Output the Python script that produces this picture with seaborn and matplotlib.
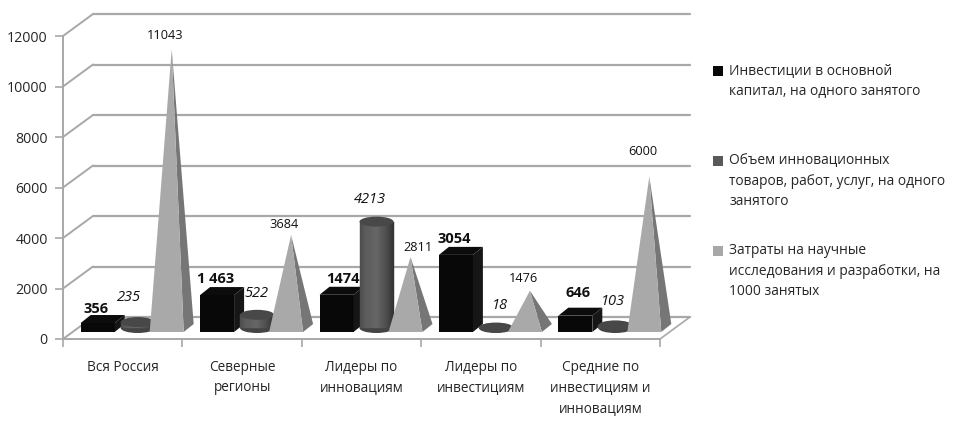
import numpy as np
import matplotlib
matplotlib.use("Agg")
import matplotlib.pyplot as plt
from matplotlib.patches import Polygon, Ellipse, Rectangle
import seaborn as sns

categories = ["Вся Россия", "Северные\nрегионы", "Лидеры по\nинновациям",
              "Лидеры по\nинвестициям", "Средние по\nинвестициям и\nинновациям"]
invest = [356, 1463, 1474, 3054, 646]
innov = [235, 522, 4213, 18, 103]
research = [11043, 3684, 2811, 1476, 6000]
invest_labels = ["356", "1 463", "1474", "3054", "646"]
legend_labels = ["Инвестиции в основной\nкапитал, на одного занятого",
                 "Объем инновационных\nтоваров, работ, услуг, на одного\nзанятого",
                 "Затраты на научные\nисследования и разработки, на\n1000 занятых"]
y_ticks = [0, 2000, 4000, 6000, 8000, 10000, 12000]

W, H = 960, 426
L, R, T, B = 63, 660, 36, 339          # front plane of the chart, pixels
PX = 5 / (R - L)                       # category units per pixel
PY = 12000 / (B - T)                   # value units per pixel
BACK_X, BACK_Y = 30, 22                # depth of the chart box, pixels
HALF = 17                              # half width of a mark, pixels
DX, DY = 10, 8                         # depth of a mark, pixels
GRID = "#a8a8a8"
TXT = "#262626"

sns.set_theme(style="white")
plt.rcParams["font.family"] = ["Open Sans", "DejaVu Sans"]

fig = plt.figure(figsize=(W / 100, H / 100), dpi=100)
ax = fig.add_axes([L / W, 1 - B / H, (R - L) / W, (B - T) / H])
idx = np.arange(len(categories))

# chart box
for v in y_ticks:
    ax.plot([-0.5 + BACK_X * PX, 4.5 + BACK_X * PX], [v + BACK_Y * PY] * 2,
            color=GRID, lw=1.6, clip_on=False, zorder=1)
    ax.plot([-0.5, -0.5 + BACK_X * PX], [v, v + BACK_Y * PY],
            color=GRID, lw=1.4, clip_on=False, zorder=1)
ax.plot([4.5, 4.5 + BACK_X * PX], [0, BACK_Y * PY], color=GRID, lw=1.2, clip_on=False, zorder=1)

base = 7 * PY                          # mark base above the front edge
bar_x = idx - 25 * PX
cyl_x = idx + 15 * PX
pyr_x = idx + 44 * PX

# investments: front faces through seaborn
sns.barplot(x=bar_x, y=invest, native_scale=True, width=34 * PX, color="#080808",
            saturation=1, bottom=base, ax=ax, zorder=3, clip_on=False, errorbar=None,
            linewidth=0, edgecolor="none")
for x, v in zip(bar_x, invest):
    x0, x1 = x - HALF * PX, x + HALF * PX
    top = base + v
    ax.add_patch(Polygon([(x1, base), (x1 + DX * PX, base + DY * PY),
                          (x1 + DX * PX, top + DY * PY), (x1, top)],
                         fc="#161616", ec="none", zorder=3, clip_on=False))
    ax.add_patch(Polygon([(x0, top), (x1, top), (x1 + DX * PX, top + DY * PY),
                          (x0 + DX * PX, top + DY * PY)],
                         fc="#0c0c0c", ec="none", zorder=3, clip_on=False))

# innovation output: cylinders
cyl_base = 11 * PY
sns.barplot(x=cyl_x, y=innov, native_scale=True, width=34 * PX, color="#555555",
            saturation=1, bottom=cyl_base, ax=ax, zorder=4, clip_on=False, errorbar=None,
            linewidth=0, edgecolor="none")
shade_pos = [0.0, 0.15, 0.5, 0.8, 1.0]
shade_val = [0.30, 0.36, 0.40, 0.30, 0.20]
n_strips = 34
for x, v in zip(cyl_x, innov):
    ax.add_patch(Ellipse((x, cyl_base), 34 * PX, 10 * PY, fc="#444444", ec="none", zorder=4, clip_on=False))
    edges = np.linspace(x - HALF * PX, x + HALF * PX, n_strips + 1)
    for k, (a, b) in enumerate(zip(edges[:-1], edges[1:])):
        g = float(np.interp(k / (n_strips - 1), shade_pos, shade_val))
        ax.add_patch(Rectangle((a, cyl_base), b - a, v, fc=(g, g, g), ec=(g, g, g), lw=0.3,
                               zorder=4, clip_on=False))
    ax.add_patch(Ellipse((x, cyl_base + v), 34 * PX, 10 * PY, fc="#484848", ec="none", zorder=4, clip_on=False))

# research spending: pyramids
for x, v in zip(pyr_x, research):
    x0, x1 = x - HALF * PX, x + HALF * PX
    apex = (x + DX / 2 * PX, base + DY / 2 * PY + v)
    ax.add_patch(Polygon([(x1, base), (x1 + DX * PX, base + DY * PY), apex],
                         fc="#767676", ec="none", zorder=5, clip_on=False))
    ax.add_patch(Polygon([(x0, base), (x1, base), apex],
                         fc="#a9a9a9", ec="none", zorder=5, clip_on=False))

# value labels, offsets in pixels from the top of each mark
bar_off = [(-2, 14), (-1, 16), (6, 16), (-2, 16), (3, 23)]
cyl_off = [(-9, 25), (-1, 21), (-7, 22), (4, 22), (-2, 24)]
pyr_off = [(-7, 14), (-7, 10), (7, 10), (-6, 12), (-6, 25)]
for x, v, s, o in zip(bar_x, invest, invest_labels, bar_off):
    ax.annotate(s, (x, base + v), xytext=o, textcoords="offset pixels", ha="center", va="center",
                fontsize=10.5, fontweight="bold", color="#111111", zorder=6, annotation_clip=False)
for x, v, o in zip(cyl_x, innov, cyl_off):
    ax.annotate(str(v), (x, cyl_base + v), xytext=o, textcoords="offset pixels", ha="center", va="center",
                fontsize=10.5, fontstyle="italic", color="#111111", zorder=6, annotation_clip=False)
for x, v, o in zip(pyr_x + 5 * PX, research, pyr_off):
    ax.annotate(str(v), (x, base + DY / 2 * PY + v), xytext=o, textcoords="offset pixels", ha="center", va="center",
                fontsize=9.2, color="#111111", zorder=6, annotation_clip=False)

# axes
ax.set_xlim(-0.5, 4.5)
ax.set_ylim(0, 12000)
ax.set_xlabel("")
ax.set_ylabel("")
ax.set_yticks(y_ticks)
ax.set_yticklabels([str(v) for v in y_ticks], fontsize=10.2, color=TXT)
ax.set_xticks(np.arange(-0.5, 5))
ax.set_xticklabels([])
ax.set_xticks(idx, labels=categories, minor=True)
ax.tick_params(axis="y", length=6, width=1.2, color=GRID, pad=5, left=True)
ax.tick_params(axis="x", which="major", length=6, width=1.2, color=GRID, bottom=True)
ax.tick_params(axis="x", which="minor", length=0, pad=15, labelsize=9.8, labelcolor=TXT)
for t in ax.get_xticklabels(minor=True):
    t.set_linespacing(1.5)
    t.set_va("top")
sns.despine(ax=ax)
for side in ("left", "bottom"):
    ax.spines[side].set_color(GRID)
    ax.spines[side].set_linewidth(1.4)
ax.patch.set_alpha(0)

# legend
legend_colors = ["#080808", "#595959", "#a8a8a8"]
legend_y = [71, 161, 251]
for c, s, y in zip(legend_colors, legend_labels, legend_y):
    fig.patches.append(Rectangle((713 / W, 1 - (y + 5) / H), 10 / W, 10 / H, fc=c, ec="none",
                                 transform=fig.transFigure, figure=fig))
    fig.text(729 / W, 1 - (y - 8) / H, s, fontsize=9.9, color=TXT, va="top", ha="left", linespacing=1.52)

fig.savefig("out.png", dpi=100, facecolor="white")
